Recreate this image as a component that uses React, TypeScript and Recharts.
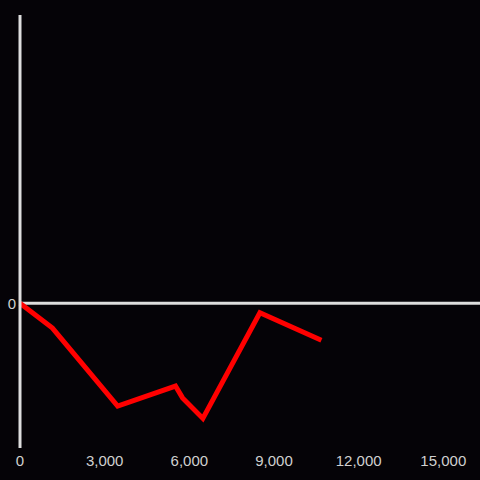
import React from 'react';
import { LineChart, Line, XAxis, YAxis, ReferenceLine } from 'recharts';

const xValues = [0, 1150, 3460, 5510, 5760, 6480, 8500, 10680];
const yValues = [0, -8.6, -35.5, -28.6, -32.7, -39.8, -3.3, -12.8];
const xTicks = [0, 3000, 6000, 9000, 12000, 15000];
const yTicks = [0];

const data = xValues.map((x, i) => ({ x, y: yValues[i] }));

const fmt = (v: number) => v.toLocaleString('en-US');

export default function App() {
  return (
    <div style={{ position: 'fixed', left: 0, top: 0, width: 480, height: 480, background: '#050307' }}>
      <LineChart width={480} height={480} data={data} margin={{ top: 15, right: 0, bottom: 0, left: 0 }}>
        <XAxis
          dataKey="x"
          type="number"
          domain={[0, 16300]}
          ticks={xTicks}
          tickFormatter={fmt}
          axisLine={false}
          tickLine={false}
          tickSize={5}
          tickMargin={2}
          height={32}
          interval={0}
          tick={{ fill: '#d0d0d0', fontSize: 15, fontFamily: 'Liberation Sans, Arial, sans-serif' }}
        />
        <YAxis
          type="number"
          domain={[-50, 99.5]}
          ticks={yTicks}
          width={20}
          axisLine={{ stroke: '#dedede', strokeWidth: 3 }}
          tickLine={false}
          tickSize={2}
          tickMargin={2}
          tick={{ fill: '#d0d0d0', fontSize: 15, fontFamily: 'Liberation Sans, Arial, sans-serif' }}
        />
        <ReferenceLine y={0} stroke="#dedede" strokeWidth={3} />
        <Line
          type="linear"
          dataKey="y"
          stroke="#ff0000"
          strokeWidth={5}
          dot={false}
          isAnimationActive={false}
        />
      </LineChart>
    </div>
  );
}
